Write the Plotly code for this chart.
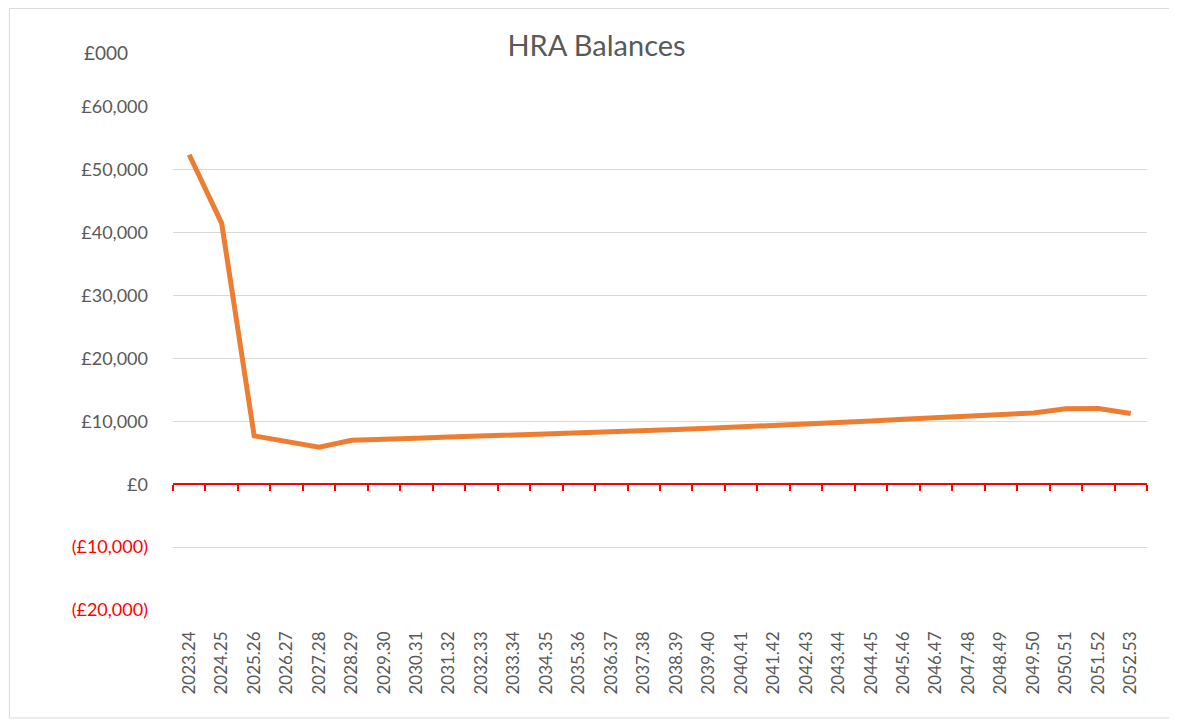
import plotly.graph_objects as go

# --- data ---
years = [
    "2023.24", "2024.25", "2025.26", "2026.27", "2027.28", "2028.29", "2029.30",
    "2030.31", "2031.32", "2032.33", "2033.34", "2034.35", "2035.36", "2036.37",
    "2037.38", "2038.39", "2039.40", "2040.41", "2041.42", "2042.43", "2043.44",
    "2044.45", "2045.46", "2046.47", "2047.48", "2048.49", "2049.50", "2050.51",
    "2051.52", "2052.53",
]
balances = [
    52400, 41500, 7700, 6800, 5900, 7000, 7100, 7300, 7500, 7650,
    7800, 8000, 8200, 8400, 8550, 8700, 8900, 9100, 9350, 9600,
    9850, 10050, 10350, 10600, 10800, 11050, 11350, 12000, 12050, 11250,
]
y_ticks = [-20000, -10000, 0, 10000, 20000, 30000, 40000, 50000, 60000]
y_labels = ["(£20,000)", "(£10,000)", "£0", "£10,000", "£20,000",
            "£30,000", "£40,000", "£50,000", "£60,000"]

GREY = "#595959"
RED = "#FF0000"
FONT = "Lato"

ticktext = [
    f'<span style="color:{RED}">{t}</span>' if v < 0 else t
    for v, t in zip(y_ticks, y_labels)
]

fig = go.Figure()

fig.add_trace(go.Scatter(
    x=years, y=balances, mode="lines",
    line=dict(color="#ED7D31", width=5),
    xaxis="x", yaxis="y", showlegend=False,
))
# invisible copy so the bottom label axis has its categories
fig.add_trace(go.Scatter(
    x=years, y=balances, mode="lines",
    line=dict(color="rgba(0,0,0,0)", width=0),
    xaxis="x2", yaxis="y", showlegend=False, hoverinfo="skip",
))

fig.update_layout(
    width=1177, height=722,
    paper_bgcolor="white", plot_bgcolor="white",
    margin=dict(l=165, r=38, t=99, b=120),
    font=dict(family=FONT, size=18, color=GREY),
    title=dict(text="HRA Balances", x=0.5, xanchor="center",
               y=0.948, yanchor="middle",
               font=dict(family=FONT, size=29, color=GREY)),
    xaxis=dict(
        type="category", range=[-0.5, len(years) - 0.5],
        anchor="free", position=0.25,
        showline=True, linecolor=RED, linewidth=1.5,
        ticks="outside", tickson="boundaries", tickcolor=RED,
        ticklen=6, tickwidth=1.5,
        showticklabels=False, showgrid=False, zeroline=False,
    ),
    xaxis2=dict(
        type="category", overlaying="x", matches="x", anchor="y",
        side="bottom", showline=False, ticks="", showgrid=False,
        tickangle=-90, ticklabelstandoff=17,
        tickfont=dict(family=FONT, size=17, color=GREY),
    ),
    yaxis=dict(
        range=[-20000, 60000], tickvals=y_ticks, ticktext=ticktext,
        showgrid=True, gridcolor="#D9D9D9", gridwidth=1,
        zeroline=False, showline=False, ticks="",
        ticklabelstandoff=24,
        tickfont=dict(family=FONT, size=18, color=GREY),
    ),
    annotations=[dict(
        text="£000", xref="paper", yref="paper",
        x=-0.0693, y=1.109, xanchor="center", yanchor="middle",
        showarrow=False, font=dict(family=FONT, size=19, color=GREY),
    )],
    shapes=[dict(
        type="rect", xref="paper", yref="paper",
        x0=-0.168, x1=1.026, y0=-0.2147, y1=1.196,
        line=dict(color="#D9D9D9", width=1), layer="below",
    )],
)

fig.write_html("out.html")
